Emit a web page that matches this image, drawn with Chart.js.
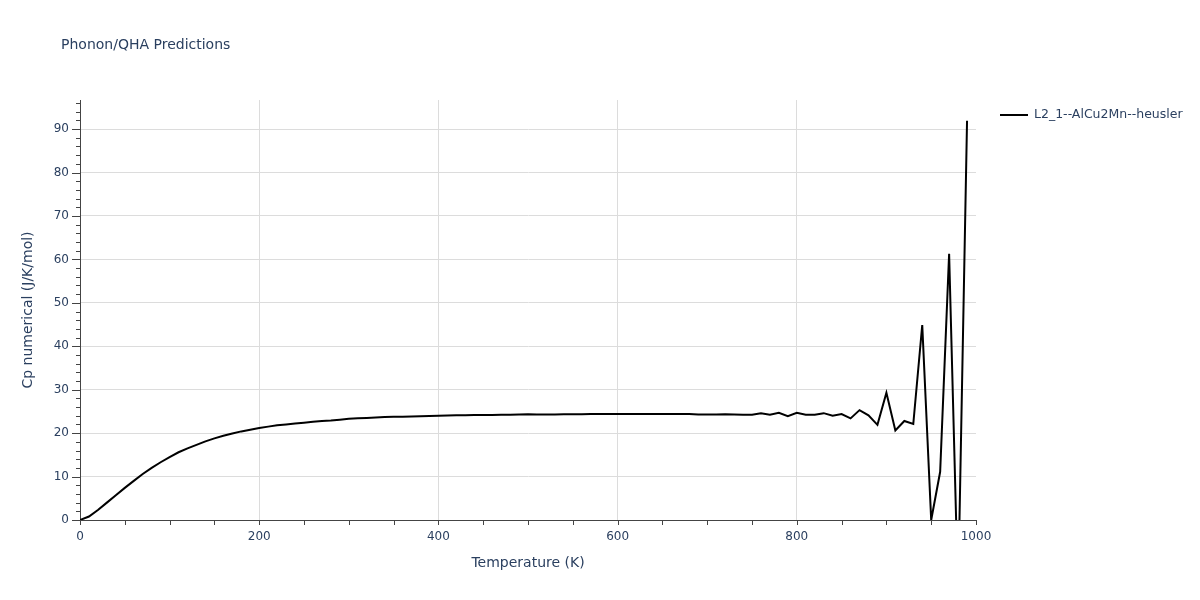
<!DOCTYPE html>
<html>
<head>
<meta charset="utf-8">
<title>Phonon/QHA Predictions</title>
<script src="https://cdn.jsdelivr.net/npm/chart.js@4.4.0/dist/chart.umd.min.js"></script>
<style>
  html, body { margin: 0; padding: 0; background: #fff; }
  #wrap { position: relative; width: 1200px; height: 600px; }
</style>
</head>
<body>
<div id="wrap"><canvas id="chartCp" width="1200" height="600"></canvas></div>
<script>
'use strict';

// Temperature grid (K)
const temperature = [
  0, 10, 20, 30, 40, 50, 60, 70, 80, 90,
  100, 110, 120, 130, 140, 150, 160, 170, 180, 190,
  200, 210, 220, 230, 240, 250, 260, 270, 280, 290,
  300, 310, 320, 330, 340, 350, 360, 370, 380, 390,
  400, 410, 420, 430, 440, 450, 460, 470, 480, 490,
  500, 510, 520, 530, 540, 550, 560, 570, 580, 590,
  600, 610, 620, 630, 640, 650, 660, 670, 680, 690,
  700, 710, 720, 730, 740, 750, 760, 770, 780, 790,
  800, 810, 820, 830, 840, 850, 860, 870, 880, 890,
  900, 910, 920, 930, 940, 950, 960, 970, 980, 990
];

// Cp numerical (J/K/mol)
const cpValues = [
  0, 0.8, 2.3, 4.0, 5.7, 7.4, 9.0, 10.6, 12.0, 13.3,
  14.5, 15.6, 16.5, 17.3, 18.1, 18.8, 19.4, 19.9, 20.4, 20.8,
  21.2, 21.5, 21.8, 22.0, 22.2, 22.4, 22.6, 22.8, 22.9, 23.1,
  23.3, 23.4, 23.5, 23.6, 23.7, 23.75, 23.8, 23.85, 23.9, 23.95,
  24.0, 24.05, 24.1, 24.1, 24.15, 24.2, 24.2, 24.25, 24.25, 24.3,
  24.35, 24.3, 24.3, 24.3, 24.35, 24.35, 24.35, 24.4, 24.4, 24.4,
  24.4, 24.4, 24.4, 24.4, 24.4, 24.4, 24.4, 24.4, 24.4, 24.3,
  24.3, 24.3, 24.35, 24.3, 24.25, 24.25, 24.55, 24.25, 24.7, 23.9,
  24.7, 24.25, 24.25, 24.6, 24.0, 24.4, 23.4, 25.3, 24.1, 21.9,
  29.3, 20.6, 22.8, 22.1, 44.9, 0, 11.1, 61.3, -17, 91.9
];

const seriesName = 'L2_1--AlCu2Mn--heusler';
const chartTitle = 'Phonon/QHA Predictions';
const xTitle = 'Temperature (K)';
const yTitle = 'Cp numerical (J/K/mol)';

const FONT = '"DejaVu Sans", Verdana, sans-serif';
const TEXT_COLOR = '#2a3f5f';
const GRID_COLOR = '#dcdcdc';
const AXIS_COLOR = '#444';

// title, legend and tick marks (plotly-like)
const decorPlugin = {
  id: 'decor',
  afterDraw(chart) {
    const ctx = chart.ctx;
    const xs = chart.scales.x;
    const ys = chart.scales.y;
    const area = chart.chartArea;
    ctx.save();

    // tick marks
    ctx.strokeStyle = AXIS_COLOR;
    ctx.lineWidth = 1;
    ctx.beginPath();
    for (let v = 0; v <= 96; v += 2) {
      const py = Math.round(ys.getPixelForValue(v)) + 0.5;
      const len = (v % 10 === 0) ? 8 : 4;
      ctx.moveTo(area.left - len, py);
      ctx.lineTo(area.left, py);
    }
    for (let v = 0; v <= 1000; v += 50) {
      const px = Math.round(xs.getPixelForValue(v)) + 0.5;
      ctx.moveTo(px, area.bottom);
      ctx.lineTo(px, area.bottom + 5);
    }
    ctx.stroke();

    // title
    ctx.fillStyle = TEXT_COLOR;
    ctx.font = '14px ' + FONT;
    ctx.textAlign = 'left';
    ctx.textBaseline = 'middle';
    ctx.fillText(chartTitle, 61, 45);

    // legend
    ctx.strokeStyle = '#000';
    ctx.lineWidth = 2;
    ctx.beginPath();
    ctx.moveTo(1000, 115);
    ctx.lineTo(1028, 115);
    ctx.stroke();
    ctx.font = '12.5px ' + FONT;
    ctx.fillText(seriesName, 1034, 115);

    ctx.restore();
  }
};

const points = temperature.map(function(t, i) { return { x: t, y: cpValues[i] }; });

const config = {
  type: 'line',
  data: {
    datasets: [{
      label: seriesName,
      data: points,
      borderColor: '#000',
      backgroundColor: '#000',
      borderWidth: 2,
      pointRadius: 0,
      tension: 0,
      fill: false
    }]
  },
  options: {
    responsive: false,
    animation: false,
    layout: { padding: { left: 0, right: 224, top: 100, bottom: 0 } },
    plugins: {
      legend: { display: false },
      title: { display: false },
      tooltip: { enabled: false }
    },
    scales: {
      x: {
        type: 'linear',
        min: 0,
        max: 1000,
        afterFit: function(scale) { scale.height = 80; },
        border: { display: true, color: AXIS_COLOR, width: 1 },
        grid: {
          drawTicks: false,
          color: function(c) {
            const v = c.tick.value;
            return (v % 200 === 0 && v > 0 && v < 1000) ? GRID_COLOR : 'rgba(0,0,0,0)';
          }
        },
        ticks: {
          stepSize: 50,
          autoSkip: false,
          maxRotation: 0,
          padding: 10,
          color: TEXT_COLOR,
          font: { family: FONT, size: 12 },
          callback: function(v) { return v % 200 === 0 ? String(v) : ''; }
        },
        title: {
          display: true,
          text: xTitle,
          color: TEXT_COLOR,
          font: { family: FONT, size: 14 },
          padding: { top: 4, bottom: 28.6 }
        }
      },
      y: {
        type: 'linear',
        min: 0,
        max: 96.7,
        afterFit: function(scale) { scale.width = 80; },
        border: { display: true, color: AXIS_COLOR, width: 1 },
        grid: {
          drawTicks: false,
          color: function(c) {
            const v = c.tick.value;
            return (v % 10 === 0 && v > 0) ? GRID_COLOR : 'rgba(0,0,0,0)';
          }
        },
        ticks: {
          stepSize: 2,
          includeBounds: false,
          autoSkip: false,
          padding: 11,
          color: TEXT_COLOR,
          font: { family: FONT, size: 12 },
          callback: function(v) { return v % 10 === 0 ? String(v) : ''; }
        },
        title: {
          display: true,
          text: yTitle,
          color: TEXT_COLOR,
          font: { family: FONT, size: 14 },
          padding: { top: 19.6, bottom: 4 }
        }
      }
    }
  },
  plugins: [decorPlugin]
};

const chartCp = new Chart(document.getElementById('chartCp'), config);
</script>
</body>
</html>
